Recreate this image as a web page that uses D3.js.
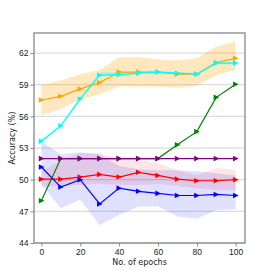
<!DOCTYPE html>
<html lang="en">
<head>
    <meta charset="UTF-8">
    <title>Accuracy vs epochs</title>
    <style>
        body { margin: 0; background: #fff; }
        svg { display: block; font-family: "DejaVu Sans", sans-serif; }
        .tick text { font-size: 8.5px; fill: #222; }
        .label { font-size: 8px; fill: #222; }
    </style>
</head>
<body>
    <div id="chart"></div>
    <script src="https://d3js.org/d3.v7.min.js"></script>
    <script>
        // epochs shared by every series
        const epochs = [0, 10, 20, 30, 40, 50, 60, 70, 80, 90, 100];
        const yTicks = [44, 47, 50, 53, 56, 59, 62];
        const xTicks = [0, 20, 40, 60, 80, 100];

        // mean accuracy per series
        const orangeVals = [57.55, 57.9, 58.6, 59.2, 60.2, 60.2, 60.2, 60.0, 60.0, 61.1, 61.5];
        const cyanVals   = [53.65, 55.1, 57.65, 59.9, 59.95, 60.1, 60.2, 60.1, 60.0, 61.05, 61.05];
        const greenVals  = [48.0, 52.0, 52.0, 52.0, 52.0, 52.0, 52.0, 53.3, 54.55, 57.8, 59.05];
        const purpleVals = [52.0, 52.0, 52.0, 52.0, 52.0, 52.0, 52.0, 52.0, 52.0, 52.0, 52.0];
        const redVals    = [50.05, 50.05, 50.25, 50.5, 50.25, 50.7, 50.4, 50.05, 49.9, 49.9, 50.0];
        const blueVals   = [51.2, 49.3, 50.0, 47.7, 49.2, 48.9, 48.7, 48.5, 48.5, 48.6, 48.5];

        // spread bands (upper / lower)
        const orangeHi = [59.0, 59.4, 60.0, 60.4, 61.6, 61.6, 61.4, 61.3, 61.5, 62.6, 63.1];
        const orangeLo = [56.1, 56.7, 57.6, 58.1, 58.85, 58.8, 58.8, 58.7, 58.9, 59.9, 60.4];
        const cyanHi   = [53.75, 55.2, 57.75, 60.15, 60.2, 60.2, 60.3, 60.2, 60.1, 61.15, 61.15];
        const cyanLo   = [53.55, 55.0, 57.55, 59.8, 59.85, 60.0, 60.1, 60.0, 59.9, 60.95, 60.95];
        const redHi    = [50.8, 51.8, 52.5, 52.5, 52.0, 51.9, 51.55, 50.9, 50.45, 51.1, 50.9];
        const redLo    = [49.3, 49.4, 49.5, 49.6, 49.5, 49.5, 49.6, 49.4, 49.2, 49.0, 49.0];
        const blueHi   = [53.6, 52.4, 52.6, 52.4, 51.3, 51.0, 50.9, 50.9, 50.8, 50.6, 50.4];
        const blueLo   = [49.6, 47.3, 48.1, 45.7, 46.65, 47.45, 47.45, 46.5, 46.3, 47.1, 47.2];

        const W = 273, H = 273;
        const margin = { top: 33, right: 28, bottom: 30, left: 34 };

        const svg = d3.select("#chart").append("svg")
            .attr("width", W)
            .attr("height", H);

        const x = d3.scaleLinear().domain([-3.8, 104.8]).range([margin.left, W - margin.right]);
        const y = d3.scaleLinear().domain([44, 63.9]).range([H - margin.bottom, margin.top]);

        // grid lines
        svg.append("g")
            .selectAll("line")
            .data(yTicks)
            .enter().append("line")
            .attr("x1", margin.left).attr("x2", W - margin.right)
            .attr("y1", d => y(d)).attr("y2", d => y(d))
            .attr("stroke", "#dcdcdc")
            .attr("stroke-width", 1.3);

        const series = [
            { vals: orangeVals, hi: orangeHi, lo: orangeLo, color: "orange", alpha: 0.25 },
            { vals: cyanVals, hi: cyanHi, lo: cyanLo, color: "cyan", alpha: 0.3 },
            { vals: greenVals, color: "green" },
            { vals: purpleVals, color: "purple" },
            { vals: redVals, hi: redHi, lo: redLo, color: "red", alpha: 0.1 },
            { vals: blueVals, hi: blueHi, lo: blueLo, color: "blue", alpha: 0.12 }
        ];

        const area = d3.area()
            .x((d, i) => x(epochs[i]))
            .y0(d => y(d[1]))
            .y1(d => y(d[0]));

        const line = d3.line()
            .x((d, i) => x(epochs[i]))
            .y(d => y(d));

        // bands first
        series.filter(s => s.hi).forEach(s => {
            svg.append("path")
                .datum(s.hi.map((v, i) => [v, s.lo[i]]))
                .attr("d", area)
                .attr("fill", s.color)
                .attr("fill-opacity", s.alpha);
        });

        // lines and triangle markers
        const tri = "M-2.6,-2.8L3,0L-2.6,2.8Z";
        series.forEach(s => {
            svg.append("path")
                .datum(s.vals)
                .attr("d", line)
                .attr("fill", "none")
                .attr("stroke", s.color)
                .attr("stroke-width", 1.2);
            svg.append("g")
                .selectAll("path")
                .data(s.vals)
                .enter().append("path")
                .attr("d", tri)
                .attr("transform", (d, i) => "translate(" + x(epochs[i]) + "," + y(d) + ")")
                .attr("fill", s.color);
        });

        // frame
        svg.append("rect")
            .attr("x", margin.left).attr("y", margin.top)
            .attr("width", W - margin.right - margin.left)
            .attr("height", H - margin.bottom - margin.top)
            .attr("fill", "none")
            .attr("stroke", "#888")
            .attr("stroke-width", 1.3);

        // axes
        const xAxis = svg.append("g")
            .attr("transform", "translate(0," + (H - margin.bottom) + ")")
            .call(d3.axisBottom(x).tickValues(xTicks).tickSize(3.5).tickPadding(2));
        const yAxis = svg.append("g")
            .attr("transform", "translate(" + margin.left + ",0)")
            .call(d3.axisLeft(y).tickValues(yTicks).tickSize(3.5).tickPadding(2));
        [xAxis, yAxis].forEach(a => {
            a.select(".domain").remove();
            a.selectAll(".tick line").attr("stroke", "#888");
            a.selectAll(".tick text").attr("fill", "#222");
        });

        svg.append("text")
            .attr("class", "label")
            .attr("x", (margin.left + W - margin.right) / 2)
            .attr("y", 265)
            .attr("text-anchor", "middle")
            .text("No. of epochs");

        svg.append("text")
            .attr("class", "label")
            .attr("transform", "translate(15," + ((margin.top + H - margin.bottom) / 2) + ") rotate(-90)")
            .attr("text-anchor", "middle")
            .text("Accuracy (%)");
    </script>
</body>
</html>
